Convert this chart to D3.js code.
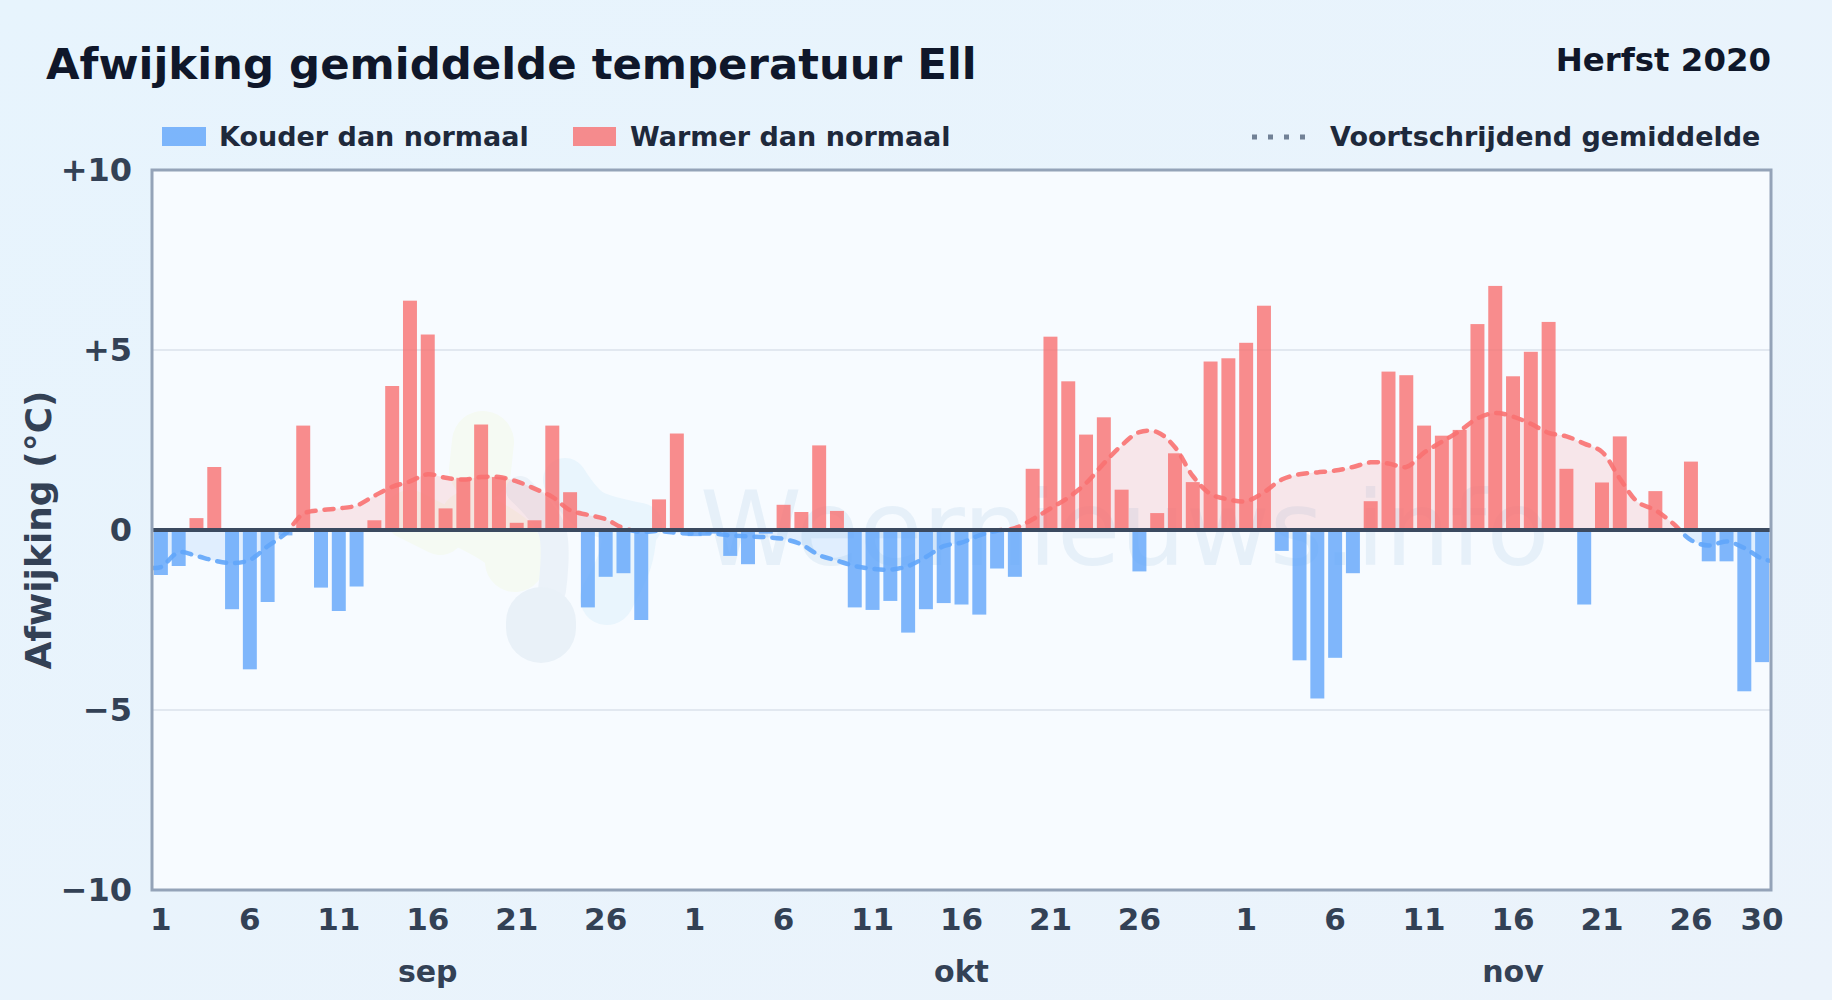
<!DOCTYPE html>
<html><head><meta charset="utf-8">
<script src="https://cdn.jsdelivr.net/npm/d3@7/dist/d3.min.js"></script>
<style>html,body{margin:0;padding:0;background:#e8f3fc;overflow:hidden}svg{display:block}text{font-family:"DejaVu Sans",sans-serif}</style>
</head><body><svg id="c" width="1832" height="1000"></svg>
<script>
const months = [["sep",30],["okt",31],["nov",30]];
const anomaly = [
 -1.25,-1.0,0.33,1.75,-2.2,-3.87,-2.0,-0.15,2.9,-1.6,-2.25,-1.57,0.27,4.0,6.37,5.43,0.6,1.45,2.93,1.47,0.2,0.27,2.9,1.05,-2.15,-1.3,-1.2,-2.5,0.85,2.68,
 -0.17,-0.1,-0.72,-0.95,-0.1,0.7,0.5,2.35,0.53,-2.15,-2.22,-1.97,-2.85,-2.2,-2.03,-2.07,-2.35,-1.07,-1.3,1.7,5.37,4.13,2.65,3.13,1.12,-1.15,0.47,2.13,1.33,4.68,4.77,
 5.2,6.23,-0.58,-3.62,-4.68,-3.55,-1.2,0.8,4.4,4.3,2.9,2.62,2.78,5.72,6.78,4.27,4.95,5.78,1.7,-2.07,1.32,2.6,0,1.08,0,1.9,-0.87,-0.87,-4.48,-3.67];
const rolling = [
 -1.03,-0.62,-0.72,-0.85,-0.92,-0.83,-0.45,-0.1,0.45,0.55,0.6,0.68,0.95,1.2,1.35,1.55,1.45,1.4,1.47,1.47,1.35,1.15,0.92,0.55,0.42,0.3,0.05,-0.05,-0.03,-0.08,
 -0.1,-0.1,-0.15,-0.18,-0.2,-0.25,-0.4,-0.7,-0.85,-1.0,-1.08,-1.1,-1.0,-0.75,-0.45,-0.35,-0.15,-0.02,0.05,0.3,0.6,0.9,1.3,1.85,2.35,2.72,2.72,2.3,1.5,1.0,0.85,
 0.8,1.05,1.4,1.55,1.6,1.65,1.75,1.88,1.85,1.75,2.15,2.45,2.75,3.1,3.25,3.15,2.95,2.7,2.6,2.4,2.17,1.43,0.78,0.55,0.18,-0.28,-0.43,-0.32,-0.5,-0.8];
const rollingEdges = [-1.05,-0.86];
const yTicks = [10,5,0,-5,-10];
const yTickLabels = ["+10","+5","0","−5","−10"];
const dayLabels = [1,6,11,16,21,26];
const legendItems = ["Kouder dan normaal","Warmer dan normaal","Voortschrijdend gemiddelde"];

const L=152,R=1771,T=170,B=890;
const svg=d3.select("#c");
const defs=svg.append("defs");
const g=defs.append("linearGradient").attr("id","bg").attr("x1",0).attr("y1",0).attr("x2",1).attr("y2",1);
g.append("stop").attr("offset",0).attr("stop-color","#e7f4fd");
g.append("stop").attr("offset",1).attr("stop-color","#ebf3fb");
svg.append("rect").attr("width",1832).attr("height",1000).attr("fill","url(#bg)");

const idx=d3.range(anomaly.length);
const x=d3.scaleBand().domain(idx).range([L,R]).paddingInner(0.215).paddingOuter(0.107);
const cx=i=>x(i)+x.bandwidth()/2;
const y=d3.scaleLinear().domain([-10,10]).range([B,T]);

svg.append("rect").attr("x",L).attr("y",T).attr("width",R-L).attr("height",B-T).attr("fill","#f7fbff");

// watermark
const wm=svg.append("g");
const blob=(pts,w,col)=>wm.append("path").attr("d",d3.line().curve(d3.curveCatmullRom)(pts)).attr("fill","none").attr("stroke",col).attr("stroke-width",w).attr("stroke-linecap","round").attr("stroke-linejoin","round");
blob([[565,480],[590,510],[640,525]],44,"#e9f5fd");
blob([[630,530],[625,560],[607,598]],54,"#e9f5fd");
blob([[483,442],[480,470]],62,"#f5faf3");
blob([[410,515],[440,530]],50,"#f5faf3");
blob([[470,520],[510,545],[515,562]],60,"#f5faf3");
blob([[520,490],[552,530],[552,590]],28,"#ebf2f9");
blob([[541,622],[541,628]],70,"#e9f1f8");
svg.append("text").attr("x",700).attr("y",565).attr("font-size",103).attr("fill","#e6f0f9").text("Weernieuws.info");

// grid
svg.append("g").selectAll("line").data(yTicks.filter(d=>Math.abs(d)==5)).join("line")
 .attr("x1",L).attr("x2",R).attr("y1",y).attr("y2",y).attr("stroke","#e2e8f0").attr("stroke-width",2);

// clip regions
defs.append("clipPath").attr("id","pos").append("rect").attr("x",L).attr("y",T).attr("width",R-L).attr("height",y(0)-T);
defs.append("clipPath").attr("id","neg").append("rect").attr("x",L).attr("y",y(0)).attr("width",R-L).attr("height",B-y(0));

const pts=[[L,rollingEdges[0]],...idx.map(i=>[cx(i),rolling[i]]),[R,rollingEdges[1]]];
const area=d3.area().x(d=>d[0]).y0(y(0)).y1(d=>y(d[1])).curve(d3.curveCatmullRom);
const line=d3.line().x(d=>d[0]).y(d=>y(d[1])).curve(d3.curveCatmullRom);

[["pos","#f87171"],["neg","#60a5fa"]].forEach(([c,col])=>{
 svg.append("path").attr("clip-path",`url(#${c})`).attr("d",area(pts)).attr("fill",col).attr("fill-opacity",0.15);
});

// bars
svg.append("g").selectAll("rect").data(idx).join("rect")
 .attr("x",i=>x(i)).attr("width",x.bandwidth())
 .attr("y",i=>y(Math.max(0,anomaly[i])))
 .attr("height",i=>Math.abs(y(anomaly[i])-y(0)))
 .attr("fill",i=>anomaly[i]<0?"#60a5fa":"#f87171").attr("fill-opacity",0.8);

// rolling
[["pos","#f87171"],["neg","#60a5fa"]].forEach(([c,col])=>{
 svg.append("path").attr("clip-path",`url(#${c})`).attr("d",line(pts)).attr("fill","none").attr("stroke",col)
  .attr("stroke-width",4.5).attr("stroke-dasharray","9 9").attr("stroke-linecap","round").attr("stroke-opacity",.9);
});

// zero
svg.append("line").attr("x1",L).attr("x2",R).attr("y1",y(0)).attr("y2",y(0)).attr("stroke","#3b4a60").attr("stroke-width",4);
// frame
svg.append("rect").attr("x",L).attr("y",T).attr("width",R-L).attr("height",B-T).attr("fill","none").attr("stroke","#94a3b8").attr("stroke-width",3);

// axes
const yAxis=d3.axisLeft(y).tickValues(yTicks).tickSize(0).tickPadding(20).tickFormat((d,i)=>yTickLabels[i]);
const ya=svg.append("g").attr("transform",`translate(${L},0)`).call(yAxis);
ya.select(".domain").remove();
ya.selectAll("text").attr("font-family","DejaVu Sans").attr("font-size",32).attr("font-weight","bold").attr("fill","#334155");

let off=0; const tv=[],tl=[],mt=[];
months.forEach(([m,n])=>{dayLabels.forEach(d=>{if(d<=n){tv.push(off+d-1);tl.push(d);}});mt.push([m,off+Math.floor(n/2)]);off+=n;});
tv.push(off-1);tl.push(30);
const xAxis=d3.axisBottom(x).tickValues(tv).tickSize(0).tickPadding(0).tickFormat((d,i)=>tl[i]);
const xa=svg.append("g").attr("transform",`translate(0,${B})`).call(xAxis);
xa.select(".domain").remove();
xa.selectAll("text").attr("font-family","DejaVu Sans").attr("font-size",31).attr("font-weight","bold").attr("fill","#334155").attr("dy",null).attr("y",40);
svg.append("g").selectAll("text").data(mt).join("text").attr("x",d=>cx(d[1])).attr("y",982).attr("text-anchor","middle")
 .attr("font-size",30).attr("font-weight","bold").attr("fill","#334155").text(d=>d[0]);

svg.append("text").attr("transform","translate(51,530) rotate(-90)").attr("text-anchor","middle").attr("font-size",36).attr("font-weight","bold").attr("fill","#334155").text("Afwijking (°C)");

// titles
svg.append("text").attr("x",46).attr("y",79).attr("font-size",43.4).attr("font-weight","bold").attr("fill","#0f172a").text("Afwijking gemiddelde temperatuur Ell");
svg.append("text").attr("x",1771).attr("y",71).attr("text-anchor","end").attr("font-size",32.4).attr("font-weight","bold").attr("fill","#0f172a").text("Herfst 2020");

// legend
const leg=svg.append("g");
leg.append("rect").attr("x",162).attr("y",127).attr("width",44).attr("height",19).attr("fill","#60a5fa").attr("fill-opacity",.8);
leg.append("rect").attr("x",573).attr("y",127).attr("width",43).attr("height",19).attr("fill","#f87171").attr("fill-opacity",.8);
leg.append("line").attr("x1",1252).attr("x2",1310).attr("y1",137).attr("y2",137).attr("stroke","#64748b").attr("stroke-width",5).attr("stroke-dasharray","5 11").attr("stroke-opacity",.9);
[[219,legendItems[0]],[630,legendItems[1]],[1330,legendItems[2]]].forEach(([px,t])=>{
 leg.append("text").attr("x",px).attr("y",146).attr("font-size",27).attr("font-weight","bold").attr("fill","#1e293b").text(t);
});
</script></body></html>
